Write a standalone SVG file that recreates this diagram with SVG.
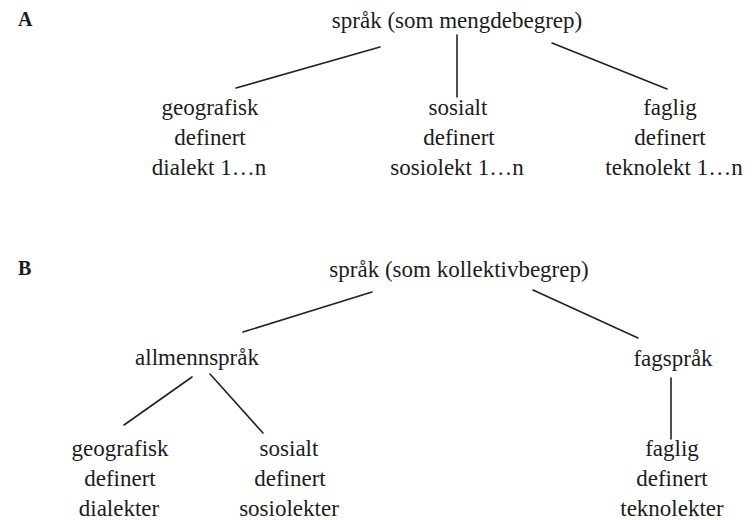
<svg xmlns="http://www.w3.org/2000/svg" width="754" height="520" viewBox="0 0 754 520">
<style>
text{font-family:"Liberation Serif","Times New Roman",serif;font-size:23px;fill:#1c1c1c;text-anchor:middle}
.lab{font-weight:bold;text-anchor:start;font-size:20px}
.edge{stroke:#222;stroke-width:1.6;fill:none;stroke-linecap:round}
</style>
<rect width="754" height="520" fill="#ffffff"/>
<g id="label-A"><text class="lab" x="18" y="26">A</text></g>
<g id="label-B"><text class="lab" x="18" y="275">B</text></g>

<g id="connectors">
<line class="edge" x1="380" y1="47" x2="236" y2="88"/>
<line class="edge" x1="457" y1="35" x2="457" y2="97"/>
<line class="edge" x1="552" y1="43" x2="667" y2="89"/>
<line class="edge" x1="372" y1="292" x2="243" y2="332"/>
<line class="edge" x1="533" y1="290" x2="638" y2="338"/>
<line class="edge" x1="192" y1="377" x2="124" y2="425"/>
<line class="edge" x1="210" y1="374" x2="263" y2="433"/>
<line class="edge" x1="671" y1="378" x2="671" y2="439"/>
</g>

<g id="a-root"><text x="457" y="28">språk (som mengdebegrep)</text></g>
<g id="a-geo"><text x="210" y="115">geografisk</text><text x="210" y="145">definert</text><text x="209" y="175">dialekt 1…n</text></g>
<g id="a-sos"><text x="458" y="115">sosialt</text><text x="459" y="145">definert</text><text x="457" y="175">sosiolekt 1…n</text></g>
<g id="a-fag"><text x="670" y="115">faglig</text><text x="670" y="145">definert</text><text x="674" y="175">teknolekt 1…n</text></g>

<g id="b-root"><text x="459" y="277">språk (som kollektivbegrep)</text></g>
<g id="b-allmenn"><text x="197" y="365">allmennspråk</text></g>
<g id="b-fagsprak"><text x="673" y="366">fagspråk</text></g>
<g id="b-geo"><text x="120" y="456">geografisk</text><text x="120" y="486">definert</text><text x="119" y="516">dialekter</text></g>
<g id="b-sos"><text x="289" y="456">sosialt</text><text x="290" y="486">definert</text><text x="289" y="516">sosiolekter</text></g>
<g id="b-fag"><text x="672" y="456">faglig</text><text x="672" y="486">definert</text><text x="672" y="516">teknolekter</text></g>
</svg>
